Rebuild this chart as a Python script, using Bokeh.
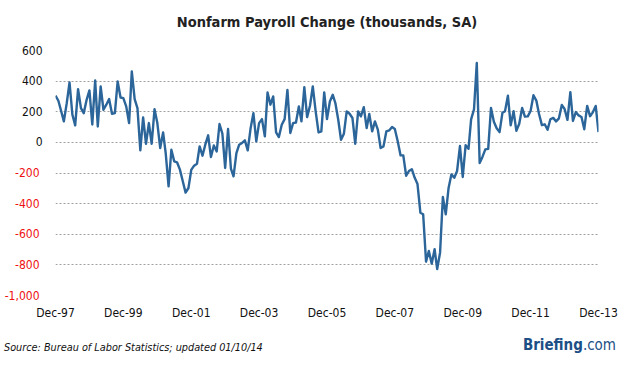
import pandas as pd
from bokeh.plotting import figure
from bokeh.layouts import column
from bokeh.models import (Range1d, FixedTicker, DatetimeTickFormatter, ColumnDataSource,
                          LinearAxis, Div, Title)
from bokeh.embed import file_html
from bokeh.resources import INLINE

# ---------------- data ----------------
first_month = "1997-12-01"
payroll_change = [
    305, 272, 202, 137, 256, 391, 180, 111, 348, 224, 191, 278,          # Dec-97 .. Nov-98
    339, 117, 404, 104, 365, 213, 246, 283, 187, 191, 398, 293,          # Dec-98 .. Nov-99
    289, 235, 126, 463, 283, 224, -52, 163, -9, 126, -9, 217,            # Dec-99 .. Nov-00
    126, -37, 65, -70, -287, -48, -124, -130, -178, -254, -328, -298,    # Dec-00 .. Nov-01
    -180, -152, -139, -26, -87, -15, 46, -96, -20, -59, 120, 57,         # Dec-01 .. Nov-02
    -167, 87, -172, -222, -70, -15, -4, 13, -52, 93, 191, 7,             # Dec-02 .. Nov-03
    126, 152, 39, 326, 246, 300, 65, 35, 115, 152, 343, 61,              # Dec-03 .. Nov-04
    126, 130, 235, 137, 361, 165, 239, 365, 202, 65, 72, 326,            # Dec-04 .. Nov-05
    152, 267, 311, 257, 148, 17, 57, 202, 187, 159, -9, 202,             # Dec-05 .. Nov-06
    170, 230, 93, 185, 72, 137, 83, -37, -26, 72, 78, 100,               # Dec-06 .. Nov-07
    87, 7, -85, -85, -218, -187, -175, -230, -272, -459, -470, -779,     # Dec-07 .. Nov-08
    -709, -792, -698, -828, -720, -357, -470, -300, -209, -231, -187, -24,  # Dec-08 .. Nov-09
    -226, -18, -42, 150, 215, 518, -135, -95, -46, -42, 225, 135,        # Dec-09 .. Nov-10
    92, 67, 193, 204, 305, 111, 204, 75, 122, 225, 168, 170,             # Dec-10 .. Nov-11
    205, 308, 273, 185, 113, 118, 82, 151, 160, 137, 157, 244,           # Dec-11 .. Nov-12
    218, 147, 328, 140, 198, 176, 166, 86, 238, 171, 196, 238,           # Dec-12 .. Nov-13
    67,                                                                  # Dec-13
]
months = pd.date_range(first_month, periods=len(payroll_change), freq="MS")

xtick_dates = ["1997-12-01", "1999-12-01", "2001-12-01", "2003-12-01", "2005-12-01",
               "2007-12-01", "2009-12-01", "2011-12-01", "2013-12-01"]
ytick_values = [-1000, -800, -600, -400, -200, 0, 200, 400, 600]
ytick_labels = ["-1,000", "-800", "-600", "-400", "-200", "0", "200", "400", "600"]

title_text = "Nonfarm Payroll Change (thousands, SA)"
source_text = "Source: Bureau of Labor Statistics; updated 01/10/14"
brand_name = "Briefing"
brand_suffix = ".com"

FONT = "DejaVu Sans Condensed, DejaVu Sans"
LINE_COLOR = "#2b6599"

# ---------------- figure ----------------
p = figure(width=626, height=330, output_backend="svg", toolbar_location=None,
           x_axis_type="datetime",
           x_range=Range1d(months[0], months[-1]),
           y_range=Range1d(ytick_values[0], ytick_values[-1]),
           min_border_left=55, min_border_right=28, min_border_top=50, min_border_bottom=35)

p.outline_line_color = None
p.background_fill_color = "white"
p.border_fill_color = "white"

src = ColumnDataSource(dict(month=months, value=payroll_change))
p.line("month", "value", source=src, line_color=LINE_COLOR, line_width=2.4,
       line_join="round")

# blank spacer between the frame and the title (title sits outermost)
p.add_layout(Title(text=" ", text_font_size="10px", standoff=8), "above")

# title
p.title.text = title_text
p.title.align = "center"
p.title.text_font = FONT
p.title.text_font_size = "14.5px"
p.title.text_font_style = "bold"
p.title.text_color = "#222222"
p.title.standoff = 0

# grid
p.xgrid.grid_line_color = None
p.ygrid.grid_line_color = "#a0a0a0"
p.ygrid.grid_line_dash = "2 2"
p.ygrid.grid_line_width = 1
p.ygrid.ticker = FixedTicker(ticks=ytick_values)

# x axis
xticks_ms = [pd.Timestamp(d).value // 10**6 for d in xtick_dates]
p.xaxis.ticker = FixedTicker(ticks=xticks_ms)
fmt = "%b-%y"
p.xaxis.formatter = DatetimeTickFormatter(years=fmt, months=fmt, days=fmt, hours=fmt,
                                          minutes=fmt, seconds=fmt, milliseconds=fmt,
                                          microseconds=fmt, hourmin=fmt, minsec=fmt)
p.xaxis.axis_line_color = None
p.xaxis.major_tick_line_color = None
p.xaxis.minor_tick_line_color = None
p.xaxis.major_tick_out = 0
p.xaxis.major_tick_in = 0
p.xaxis.major_label_standoff = 10
p.xaxis.major_label_text_font = FONT
p.xaxis.major_label_text_font_size = "12px"
p.xaxis.major_label_text_color = "#111111"

# inner y axis: non-negative labels in black
p.yaxis.ticker = FixedTicker(ticks=ytick_values)
p.yaxis.major_label_overrides = {v: (lab if v >= 0 else " ")
                                 for v, lab in zip(ytick_values, ytick_labels)}
for ax in p.yaxis:
    ax.axis_line_color = None
    ax.major_tick_line_color = None
    ax.minor_tick_line_color = None
    ax.major_tick_out = 0
    ax.major_tick_in = 0
    ax.major_label_standoff = 13
    ax.major_label_text_font = FONT
    ax.major_label_text_font_size = "12px"
    ax.major_label_text_color = "#111111"

# outer y axis, pulled back over the inner one: negative labels in red
neg_axis = LinearAxis(ticker=FixedTicker(ticks=ytick_values),
                      major_label_overrides={v: (lab if v < 0 else " ")
                                             for v, lab in zip(ytick_values, ytick_labels)},
                      axis_line_color=None, major_tick_line_color=None,
                      minor_tick_line_color=None, major_tick_out=0, major_tick_in=0,
                      major_label_standoff=-21, major_label_text_font=FONT,
                      major_label_text_font_size="12px", major_label_text_color="#ee1111")
p.add_layout(neg_axis, "left")

# footer
footer_html = (
    '<div style="position:relative;width:626px;height:37px;">'
    '<span style="position:absolute;left:4px;top:10px;white-space:nowrap;'
    'font-family:\'DejaVu Sans Condensed\',\'DejaVu Sans\';font-size:10.8px;'
    f'font-style:italic;color:#111111;">{source_text}</span>'
    '<span style="position:absolute;right:10px;top:5px;white-space:nowrap;'
    'font-family:\'DejaVu Sans Condensed\',\'DejaVu Sans\';font-size:15px;'
    f'color:#1d4f86;"><b>{brand_name}</b>{brand_suffix}</span>'
    '</div>'
)
footer = Div(text=footer_html, width=626, height=37, margin=0)

layout = column(p, footer, spacing=0)
open("out.html", "w").write(file_html(layout, INLINE))
